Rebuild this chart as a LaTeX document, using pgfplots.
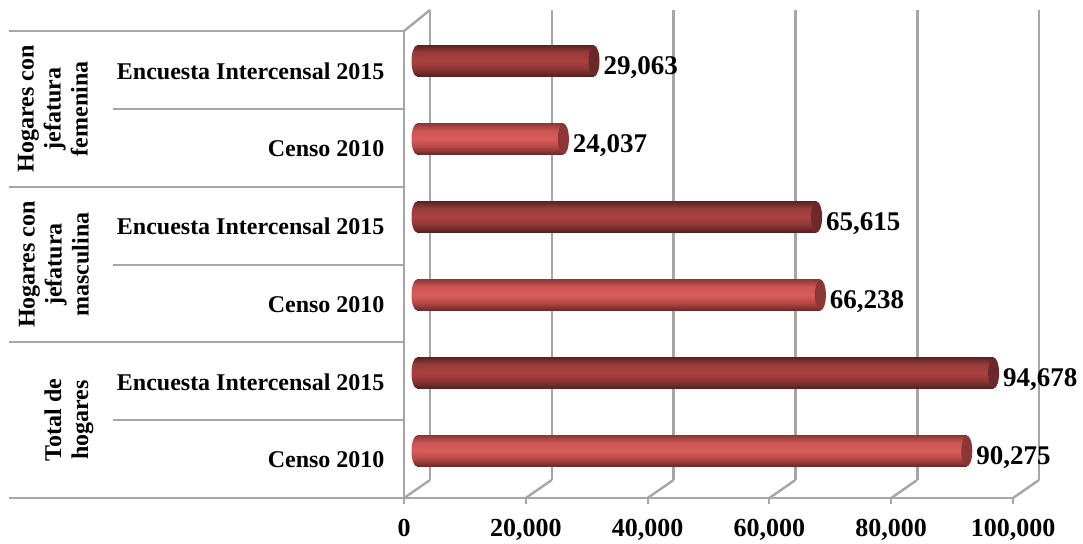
\documentclass[border=0pt]{standalone}
\usepackage{fontspec}
\setmainfont{Liberation Serif}
\usepackage{pgfplots}
\pgfplotsset{compat=1.18}
\definecolor{wallgray}{HTML}{A6A6A6}
\definecolor{enddarkc}{rgb}{0.42,0.16,0.16}
\definecolor{endlightc}{rgb}{0.55,0.21,0.21}
% cylinder shadings, the middle 50bp is what the bar sees
\pgfdeclareverticalshading{darkcyl}{100bp}{rgb(0bp)=(0.33,0.13,0.13); rgb(25bp)=(0.33,0.13,0.13); rgb(38bp)=(0.56,0.21,0.21); rgb(50bp)=(0.67,0.26,0.25); rgb(64bp)=(0.60,0.23,0.23); rgb(75bp)=(0.36,0.14,0.14); rgb(100bp)=(0.36,0.14,0.14)}
\pgfdeclareverticalshading{lightcyl}{100bp}{rgb(0bp)=(0.42,0.16,0.16); rgb(25bp)=(0.42,0.16,0.16); rgb(38bp)=(0.72,0.28,0.28); rgb(50bp)=(0.86,0.36,0.36); rgb(64bp)=(0.80,0.33,0.33); rgb(75bp)=(0.56,0.22,0.22); rgb(100bp)=(0.56,0.22,0.22)}
\pgfdeclareplotmark{capdark}{\pgfpathellipse{\pgfpointorigin}{\pgfqpoint{5.5pt}{0pt}}{\pgfqpoint{0pt}{15.5pt}}\pgfshadepath{darkcyl}{0}\pgfusepath{discard}}
\pgfdeclareplotmark{caplight}{\pgfpathellipse{\pgfpointorigin}{\pgfqpoint{5.5pt}{0pt}}{\pgfqpoint{0pt}{15.5pt}}\pgfshadepath{lightcyl}{0}\pgfusepath{discard}}
\pgfdeclareplotmark{enddark}{\pgfsetfillcolor{enddarkc}\pgfpathellipse{\pgfpointorigin}{\pgfqpoint{5.5pt}{0pt}}{\pgfqpoint{0pt}{15.5pt}}\pgfusepath{fill}}
\pgfdeclareplotmark{endlight}{\pgfsetfillcolor{endlightc}\pgfpathellipse{\pgfpointorigin}{\pgfqpoint{5.5pt}{0pt}}{\pgfqpoint{0pt}{15.5pt}}\pgfusepath{fill}}
\pgfplotsset{
  cylbar/.style={xbar, bar shift=0pt, bar width=31pt, draw=none, shade, shading=#1,
    point meta=x, nodes near coords,
    every node near coord/.append style={anchor=west, xshift=6pt, yshift=-7pt, text=black, font=\fontsize{27}{29}\selectfont\bfseries}},
}
\begin{document}
\begin{tikzpicture}[x=1pt,y=1pt]
\useasboundingbox (0,0) rectangle (1083,543);
% back wall with the gridlines
\begin{axis}[
    at={(430pt,63pt)}, anchor=south west,
    scale only axis, width=609pt, height=470pt,
    clip=false,
    xmin=0, xmax=100000, ymin=-0.5, ymax=5.5,
    xtick={0,20000,40000,60000,80000,100000}, ytick=\empty,
    xticklabels={}, scaled x ticks=false, axis line style={draw=none},
    xmajorgrids=true, major tick length=0pt,
    grid style={wallgray, line width=2.6pt},
]
\end{axis}
% front axis, category labels and the table lines
\begin{axis}[
    at={(404pt,45pt)}, anchor=south west,
    scale only axis, width=609pt, height=467pt,
    clip=false,
    xmin=0, xmax=100000, ymin=-0.5, ymax=5.5,
    axis x line*=bottom, axis y line*=left,
    axis line style={wallgray, line width=2.4pt, -},
    xtick={0,20000,40000,60000,80000,100000},
    scaled x ticks=false,
    ytick={0,1,2,3,4,5},
    yticklabels={Censo 2010,Encuesta Intercensal 2015,Censo 2010,Encuesta Intercensal 2015,Censo 2010,Encuesta Intercensal 2015},
    ytick style={draw=none},
    major tick length=0pt,
    /pgf/number format/fixed,
    /pgf/number format/precision=0,
    /pgf/number format/assume math mode=true,
    /pgf/number format/1000 sep={,},
    xticklabel style={font=\fontsize{26}{28}\selectfont\bfseries, yshift=-18pt},
    yticklabel style={font=\fontsize{24}{26}\selectfont\bfseries, xshift=-16pt, yshift=-1pt},
]
\pgfplotsinvokeforeach{0,20000,40000,60000,80000,100000}{
  \draw[wallgray, line width=2.4pt] (axis cs:#1,-0.5) -- ++(26pt,18pt);
  \draw[wallgray, line width=2pt] (axis cs:#1,-0.5) -- ++(0pt,-6pt);
}
\draw[wallgray, line width=2.4pt] (axis cs:0,5.5) -- ++(26pt,21pt);
\pgfplotsinvokeforeach{-0.5,1.5,3.5,5.5}{
  \draw[wallgray, line width=2pt] (axis cs:0,#1) -- ++(-395pt,0pt);
}
\pgfplotsinvokeforeach{0.5,2.5,4.5}{
  \draw[wallgray, line width=2pt] (axis cs:0,#1) -- ++(-291pt,0pt);
}
\node[xshift=-335pt, rotate=90, align=center, font=\fontsize{24}{27}\selectfont\bfseries] at (axis cs:0,0.5) {Total de\\hogares};
\node[xshift=-350pt, rotate=90, align=center, font=\fontsize{24}{27}\selectfont\bfseries] at (axis cs:0,2.5) {Hogares con\\jefatura\\masculina};
\node[xshift=-351pt, rotate=90, align=center, font=\fontsize{24}{27}\selectfont\bfseries] at (axis cs:0,4.5) {Hogares con\\jefatura\\femenina};
\end{axis}
% the bars sit halfway into the depth
\begin{axis}[
    at={(417pt,53pt)}, anchor=south west,
    scale only axis, width=609pt, height=468pt,
    clip=false, hide axis,
    xmin=0, xmax=100000, ymin=-0.5, ymax=5.5,
    /pgf/number format/fixed,
    /pgf/number format/precision=0,
    /pgf/number format/assume math mode=true,
    /pgf/number format/1000 sep={,},
]
% left ends
\addplot[only marks, mark=caplight] coordinates {(0,0)(0,2)(0,4)};
\addplot[only marks, mark=capdark] coordinates {(0,1)(0,3)(0,5)};
% one plot per bar, a shading is fitted to the whole plot path
\addplot[cylbar=lightcyl] coordinates {(90275,0)};
\addplot[cylbar=darkcyl] coordinates {(94678,1)};
\addplot[cylbar=lightcyl] coordinates {(66238,2)};
\addplot[cylbar=darkcyl] coordinates {(65615,3)};
\addplot[cylbar=lightcyl] coordinates {(24037,4)};
\addplot[cylbar=darkcyl] coordinates {(29063,5)};
% right ends
\addplot[only marks, mark=endlight] coordinates {(90275,0)(66238,2)(24037,4)};
\addplot[only marks, mark=enddark] coordinates {(94678,1)(65615,3)(29063,5)};
\end{axis}
\end{tikzpicture}
\end{document}
